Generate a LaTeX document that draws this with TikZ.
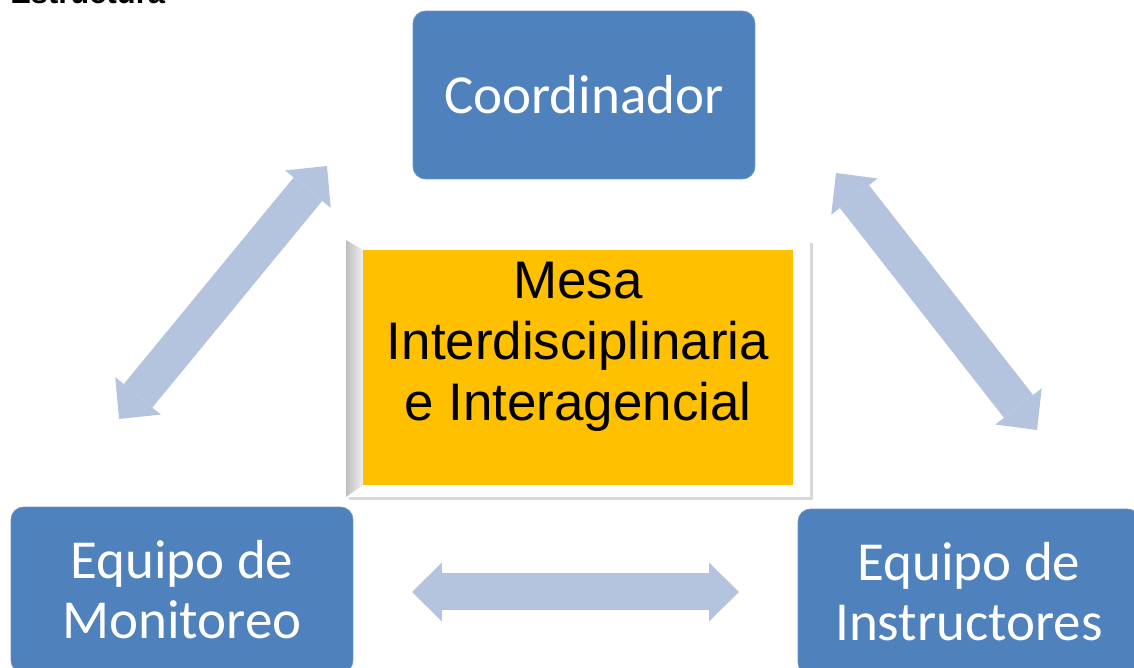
\documentclass[tikz,border=0pt]{standalone}
\usepackage{fontspec}
\setmainfont{Liberation Sans}
\newfontfamily\calibri{Carlito}
\usetikzlibrary{arrows.meta}
\definecolor{boxblue}{HTML}{4F81BD}
\definecolor{linkblue}{RGB}{180,196,222}
\definecolor{mesayellow}{HTML}{FFC000}

\begin{document}
\begin{tikzpicture}[x=0.02cm,y=-0.02cm,
  unitbox/.style={rectangle, rounded corners=0.25cm, fill=boxblue, draw=boxblue!85!white,
    text=white, minimum width=6.84cm, minimum height=3.36cm, inner sep=0pt, align=center,
    font=\calibri\fontsize{31.3}{34.1}\selectfont},
  link/.style={draw=linkblue, line width=0.74cm,
    >={Triangle[width=1.18cm,length=0.6cm,line width=0pt]}, <->}]
\useasboundingbox (0,0) rectangle (1134,668);
\node[anchor=base west, inner sep=0pt, font=\bfseries\fontsize{17.6}{20}\selectfont] (titulo) at (10,4) {Estructura};

% blue boxes
\node[unitbox] (coord) at (584,95) {Coordinador};
\node[unitbox, minimum height=3.32cm] (monit) at (182,590) {Equipo de\\Monitoreo};
\node[unitbox, minimum height=3.32cm] (instr) at (969,592) {Equipo de\\Instructores};

% central frame
\fill[black!30, opacity=0.5] (349,243) rectangle (813,500);
\fill[white] (346,240) rectangle (810,497);
\shade[left color=black!25, right color=black!6] (346,240) -- (363,250) -- (363,485) -- (346,497) -- cycle;
\node[fill=mesayellow, minimum width=8.6cm, minimum height=4.7cm, inner sep=0pt] (mesa) at (578,367.5) {};
\node[align=center, inner sep=0pt, font=\fontsize{30.1}{34.7}\selectfont] (mesatext) at (578,347) {Mesa\\Interdisciplinaria\\e Interagencial};

% arrows
\coordinate (lA) at (119,419);
\coordinate (lB) at (327,166);
\coordinate (rA) at (836,173);
\coordinate (rB) at (1037,430);
\coordinate (bA) at (412,592);
\coordinate (bB) at (739,592);
\draw[link] (lA) -- (lB);
\draw[link] (rA) -- (rB);
\draw[link] (bA) -- (bB);
\end{tikzpicture}
\end{document}
